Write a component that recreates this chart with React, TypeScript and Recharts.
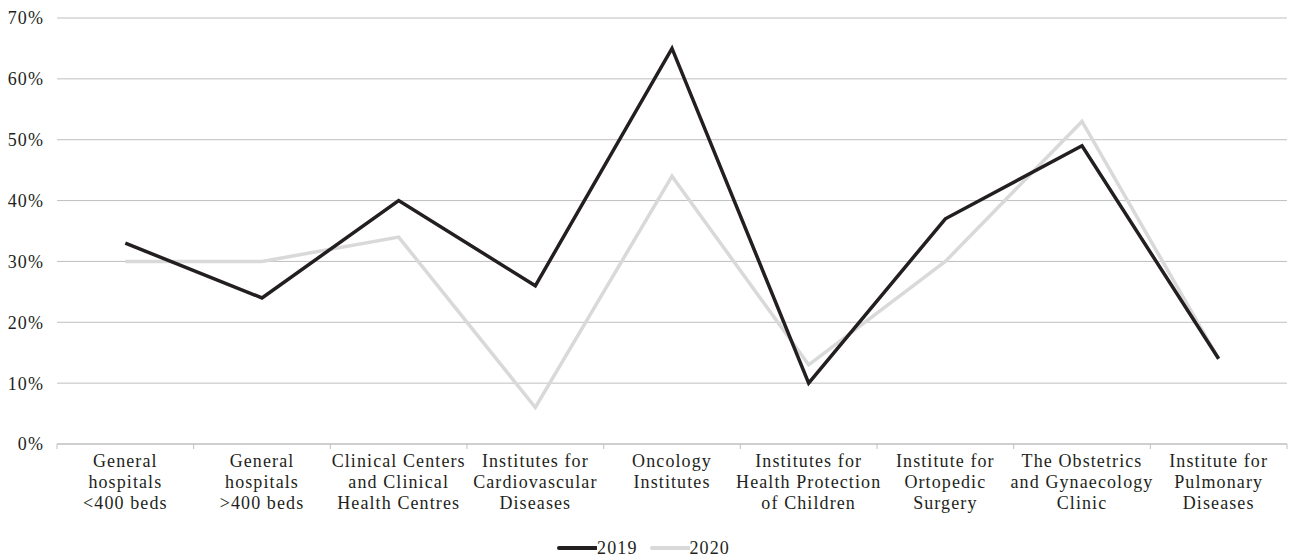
import { CartesianGrid, Legend, Line, LineChart, XAxis, YAxis } from "recharts";

const categories = [
  ["General", "hospitals", "<400 beds"],
  ["General", "hospitals", ">400 beds"],
  ["Clinical Centers", "and Clinical", "Health Centres"],
  ["Institutes for", "Cardiovascular", "Diseases"],
  ["Oncology", "Institutes"],
  ["Institutes for", "Health Protection", "of Children"],
  ["Institute for", "Ortopedic", "Surgery"],
  ["The Obstetrics", "and Gynaecology", "Clinic"],
  ["Institute for", "Pulmonary", "Diseases"],
];
const values2019 = [33, 24, 40, 26, 65, 10, 37, 49, 14];
const values2020 = [30, 30, 34, 6, 44, 13, 30, 53, 14];
const yTicks = [0, 10, 20, 30, 40, 50, 60, 70];

const FONT = "'Liberation Serif', serif";
const FS = 18;
const LS = 1.1;
const TEXT = "#231f20";
const GRID = "#bfbfbf";
const C2019 = "#231f20";
const C2020 = "#d9d9d9";

const data = categories.map((lines, i) => ({
  name: lines.join(" "),
  y2019: values2019[i],
  y2020: values2020[i],
}));

// label lines + small tick marks at the band edges (payload.offset = half band)
function CategoryTick({ x, y, payload, index }: any) {
  const lines = categories[index] ?? [String(payload.value)];
  const half = payload?.offset ?? 0;
  return (
    <g>
      <line x1={x - half} y1={y} x2={x - half} y2={y + 5} stroke={GRID} />
      {index === categories.length - 1 && (
        <line x1={x + half} y1={y} x2={x + half} y2={y + 5} stroke={GRID} />
      )}
      <text
        x={x}
        y={y + 23}
        textAnchor="middle"
        fill={TEXT}
        fontSize={FS}
        fontFamily={FONT}
        letterSpacing={LS}
      >
        {lines.map((l, i) => (
          <tspan key={i} x={x} dy={i === 0 ? 0 : 21}>
            {l}
          </tspan>
        ))}
      </text>
    </g>
  );
}

function LegendContent() {
  const items = [
    { label: "2019", color: C2019 },
    { label: "2020", color: C2020 },
  ];
  return (
    <div
      style={{
        display: "flex",
        justifyContent: "center",
        gap: 12,
        paddingTop: 8,
        fontFamily: FONT,
        fontSize: FS,
        letterSpacing: LS,
        color: TEXT,
        lineHeight: "20px",
      }}
    >
      {items.map((it) => (
        <div key={it.label} style={{ display: "flex", alignItems: "center" }}>
          <svg width={40} height={10}>
            <line x1={2} y1={5} x2={39} y2={5} stroke={it.color} strokeWidth={4} strokeLinecap="round" />
          </svg>
          <span>{it.label}</span>
        </div>
      ))}
    </div>
  );
}

export default function App() {
  return (
    <div>
      <style>{"body{margin:0}"}</style>
      <LineChart
        width={1295}
        height={558}
        data={data}
        margin={{ top: 18, right: 8, bottom: 0, left: 0 }}
      >
        <CartesianGrid vertical={false} stroke={GRID} />
        <XAxis
          dataKey="name"
          scale="band"
          interval={0}
          tick={<CategoryTick />}
          tickLine={false}
          tickSize={0}
          tickMargin={0}
          axisLine={{ stroke: GRID }}
          height={86}
        />
        <YAxis
          domain={[0, 70]}
          ticks={yTicks}
          tickFormatter={(v) => `${v}%`}
          axisLine={false}
          tickLine={false}
          tickSize={8}
          tickMargin={5}
          width={57}
          tick={{ fill: TEXT, fontSize: FS, fontFamily: FONT, letterSpacing: LS }}
        />
        <Legend verticalAlign="bottom" height={28} content={<LegendContent />} />
        <Line
          dataKey="y2020"
          stroke={C2020}
          strokeWidth={3.5}
          dot={false}
          isAnimationActive={false}
        />
        <Line
          dataKey="y2019"
          stroke={C2019}
          strokeWidth={3.5}
          dot={false}
          isAnimationActive={false}
        />
      </LineChart>
    </div>
  );
}
